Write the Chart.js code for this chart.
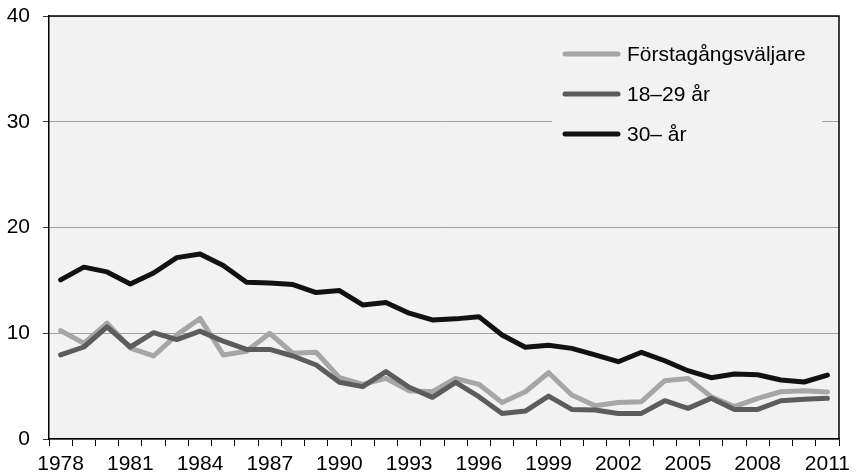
<!DOCTYPE html>
<html>
<head>
<meta charset="utf-8">
<script src="https://cdn.jsdelivr.net/npm/chart.js@4"></script>
<style>
  html, body { margin: 0; padding: 0; background: #ffffff; }
  #wrap { width: 857px; height: 476px; }
</style>
</head>
<body>
<div id="wrap"><canvas id="c" width="857" height="476"></canvas></div>
<script>
const years = ["1978","1979","1980","1981","1982","1983","1984","1985","1986","1987","1988","1989","1990","1991","1992","1993","1994","1995","1996","1997","1998","1999","2000","2001","2002","2003","2004","2005","2006","2007","2008","2009","2010","2011"];
const forstagangs = [10.25,9.05,10.95,8.6,7.85,9.85,11.4,7.95,8.3,10.0,8.1,8.2,5.8,5.17,5.73,4.57,4.47,5.73,5.17,3.46,4.47,6.27,4.16,3.15,3.46,3.53,5.51,5.73,4.0,3.06,3.85,4.47,4.57,4.44];
const age18to29 = [7.95,8.7,10.6,8.7,10.05,9.4,10.2,9.25,8.47,8.47,7.85,7.0,5.36,4.95,6.37,4.89,3.94,5.36,4.0,2.42,2.64,4.06,2.8,2.74,2.42,2.42,3.62,2.9,3.85,2.8,2.8,3.62,3.75,3.85];
const age30plus = [15.05,16.25,15.8,14.65,15.7,17.15,17.5,16.4,14.83,14.75,14.6,13.85,14.04,12.68,12.9,11.9,11.26,11.36,11.57,9.84,8.67,8.86,8.57,7.95,7.31,8.2,7.4,6.46,5.8,6.15,6.08,5.58,5.39,6.05];
const seriesNames = ["Förstagångsväljare","18–29 år","30– år"];
const seriesColors = ["#a6a6a6","#5c5c5c","#111111"];
const yTicks = [0,10,20,30,40];

const FONT = "'Liberation Sans', Arial, sans-serif";

const framePlugin = {
  id: 'frame',
  beforeDraw(chart) {
    const {ctx, chartArea: a} = chart;
    ctx.save();
    ctx.fillStyle = '#f2f2f2';
    ctx.fillRect(a.left, a.top, a.right - a.left, a.bottom - a.top);
    ctx.restore();
  },
  afterDatasetsDraw(chart) {
    const {ctx, chartArea: a} = chart;
    ctx.save();
    ctx.fillStyle = '#f2f2f2';
    ctx.fillRect(552, 30, 270, 128);
    const rows = [54, 94, 134];
    chart.data.datasets.forEach((ds, i) => {
      ctx.strokeStyle = ds.borderColor;
      ctx.lineWidth = 5;
      ctx.lineCap = 'round';
      ctx.beginPath();
      ctx.moveTo(565, rows[i]);
      ctx.lineTo(618, rows[i]);
      ctx.stroke();
      ctx.fillStyle = '#000';
      ctx.font = '21px ' + FONT;
      ctx.textBaseline = 'middle';
      ctx.textAlign = 'left';
      ctx.fillText(ds.label, 627, rows[i] + 1);
    });
    ctx.strokeStyle = '#000';
    ctx.lineWidth = 1.5;
    ctx.lineCap = 'butt';
    ctx.beginPath();
    ctx.moveTo(a.left, a.top);
    ctx.lineTo(a.right, a.top);
    ctx.lineTo(a.right, a.bottom);
    ctx.stroke();
    ctx.restore();
  }
};

const datasets = [forstagangs, age18to29, age30plus].map((d, i) => ({
  label: seriesNames[i],
  data: d,
  borderColor: seriesColors[i],
  backgroundColor: seriesColors[i],
  borderWidth: 5,
  pointRadius: 0,
  tension: 0,
  fill: false,
  borderJoinStyle: 'round',
  borderCapStyle: 'round',
  order: 3 - i
}));

const chart = new Chart(document.getElementById('c'), {
  type: 'line',
  data: { labels: years, datasets },
  options: {
    responsive: false,
    animation: false,
    layout: { padding: { top: 16, right: 18, left: 0, bottom: 0 } },
    plugins: { legend: { display: false }, tooltip: { enabled: false } },
    scales: {
      x: {
        type: 'category',
        offset: true,
        afterFit(s) { s.height = 37; },
        grid: { display: true, drawOnChartArea: false, drawTicks: true, tickLength: 7, offset: true, color: '#000', lineWidth: 1 },
        border: { display: true, color: '#000', width: 1.5 },
        ticks: {
          autoSkip: false, maxRotation: 0, minRotation: 0, padding: 6,
          color: '#000', font: { family: FONT, size: 21 },
          callback(v, i) { return i % 3 === 0 ? this.getLabelForValue(v) : ''; }
        }
      },
      y: {
        min: 0, max: 40,
        afterFit(s) { s.width = 49; s.paddingTop = 0; s.paddingBottom = 0; },
        afterBuildTicks(s) { s.ticks = yTicks.map(v => ({ value: v })); },
        grid: { color: '#a0a0a0', lineWidth: 1, tickLength: 6, tickColor: '#333' },
        border: { display: true, color: '#000', width: 1.5 },
        ticks: { padding: 13, color: '#000', font: { family: FONT, size: 21 } }
      }
    }
  },
  plugins: [framePlugin]
});
</script>
</body>
</html>
